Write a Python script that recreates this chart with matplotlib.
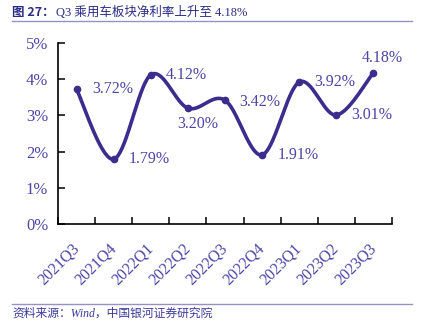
import numpy as np
import matplotlib
matplotlib.use('Agg')
import matplotlib.pyplot as plt
from matplotlib.lines import Line2D

quarters = ['2021Q3', '2021Q4', '2022Q1', '2022Q2', '2022Q3', '2022Q4', '2023Q1', '2023Q2', '2023Q3']
margin = [3.72, 1.79, 4.12, 3.20, 3.42, 1.91, 3.92, 3.01, 4.18]
yticks = [0, 1, 2, 3, 4, 5]
title_bold = '图 27：'
title_rest = 'Q3 乘用车板块净利率上升至 4.18%'
source_text = '资料来源：Wind，中国银河证券研究院'

# label placement (pixel offsets, alignment)
label_style = [(16, 0, 'left'), (15, 0, 'left'), (15, 0, 'left'), (10, -16, 'center'),
               (14, -2, 'left'), (16, 0, 'left'), (15, 0, 'left'), (15, 0, 'left'),
               (9, 15, 'center')]

W, H = 426, 332
LINE_C = '#3B2C8E'
TEXT_C = '#4B45A8'
DECO_C = '#9490C8'
FAM = ['Liberation Serif', 'Noto Sans CJK SC']

fig = plt.figure(figsize=(W / 100, H / 100), dpi=100)
ax = fig.add_axes([58 / W, 1 - 224 / H, (392 - 58) / W, (224 - 43) / H])


def smooth(xs, ys, n=40):
    pts = np.column_stack([xs, ys]).astype(float)
    out = []
    for i in range(len(pts) - 1):
        p0 = pts[i - 1] if i > 0 else pts[i]
        p1, p2 = pts[i], pts[i + 1]
        p3 = pts[i + 2] if i + 2 < len(pts) else pts[i + 1]
        c1 = p1 + (p2 - p0) / 6
        c2 = p2 - (p3 - p1) / 6
        t = np.linspace(0, 1, n)[:, None]
        seg = (1 - t) ** 3 * p1 + 3 * (1 - t) ** 2 * t * c1 + 3 * (1 - t) * t ** 2 * c2 + t ** 3 * p2
        out.append(seg if i == 0 else seg[1:])
    return np.vstack(out)


x = np.arange(len(quarters))
curve = smooth(x, margin)
ax.plot(curve[:, 0], curve[:, 1], color=LINE_C, lw=2.6, solid_capstyle='round', zorder=3)
ax.plot(x, margin, 'o', color=LINE_C, ms=4.5, zorder=4)

for xi, v, (dx, dy, ha) in zip(x, margin, label_style):
    ax.annotate(f'{v:.2f}%', (xi, v), xytext=(dx, dy), textcoords='offset pixels',
                ha=ha, va='center', fontsize=11.5, color=TEXT_C, family=FAM)

ax.set_xlim(-0.5, len(quarters) - 0.5)
ax.set_ylim(0, 5)
ax.set_yticks(yticks)
ax.set_yticklabels([f'{t}%' for t in yticks], family=FAM, fontsize=12, color=TEXT_C)
ax.set_xticks(np.arange(-0.5, len(quarters)), labels=[''] * (len(quarters) + 1))
ax.set_xticks(x, labels=quarters, minor=True)
for lab in ax.get_xticklabels(minor=True):
    lab.set_rotation(45)
    lab.set_ha('right')
    lab.set_va('center')
    lab.set_rotation_mode('anchor')
    lab.set_family(FAM)
    lab.set_fontsize(11.5)
    lab.set_color(TEXT_C)
ax.tick_params(axis='x', which='major', direction='in', length=5, width=1.1, color='black')
ax.tick_params(axis='x', which='minor', length=0, pad=16)
ax.tick_params(axis='y', direction='in', length=5, width=1.1, pad=7, color='black')
for s in ['top', 'right']:
    ax.spines[s].set_visible(False)
for s in ['left', 'bottom']:
    ax.spines[s].set_linewidth(1.2)
    ax.spines[s].set_color('black')

# title
t1 = fig.text(12 / W, 1 - 12.5 / H, title_bold, fontsize=9, weight='bold', color='#2A2C86',
              family=['Noto Sans CJK SC'], va='center', ha='left')
fig.canvas.draw()
bb = t1.get_window_extent()
fig.text(bb.x1 / W + 1 / W, 1 - 12.5 / H, title_rest, fontsize=9, color='#2A2C86',
         family=FAM, va='center', ha='left')
fig.add_artist(Line2D([12 / W, 412 / W], [1 - 21 / H, 1 - 21 / H], color=DECO_C, lw=1.0))

# source
fig.add_artist(Line2D([12 / W, 412 / W], [1 - 304 / H, 1 - 304 / H], color=DECO_C, lw=1.0))
fig.text(12 / W, 1 - 313.5 / H, source_text, fontsize=8.5, color='#3B3A9A', style='italic',
         family=FAM, va='center', ha='left')

fig.savefig('out.png', dpi=100)
